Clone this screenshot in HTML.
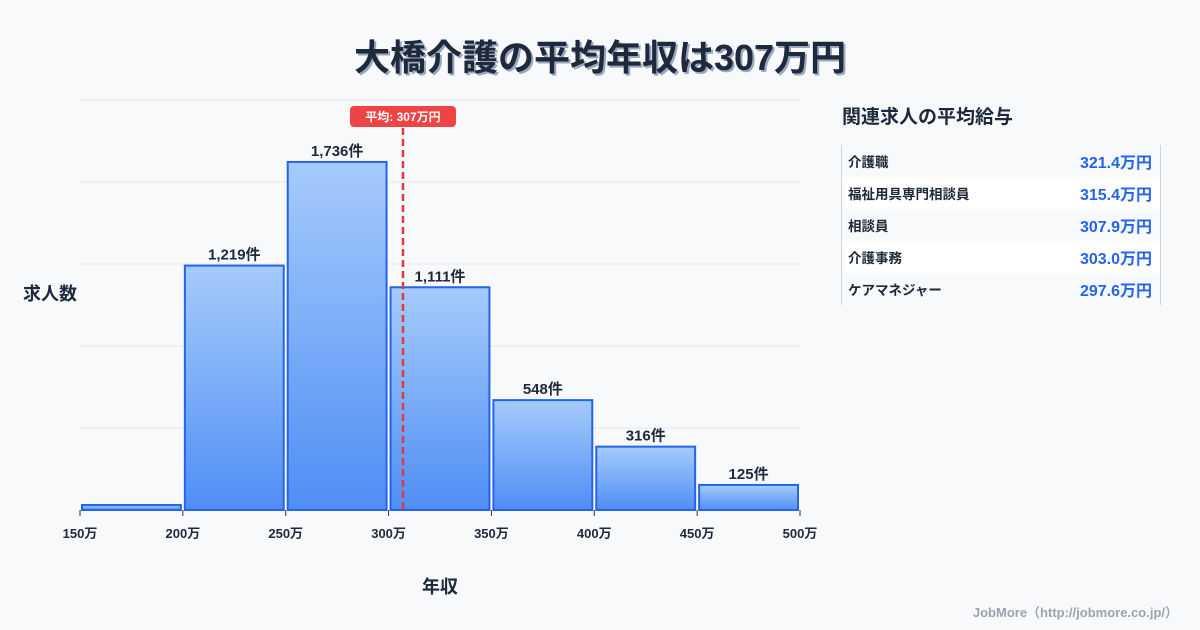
<!DOCTYPE html>
<html><head><meta charset="utf-8">
<style>
body{margin:0;width:1200px;height:630px;background:#f8f9fb;font-family:"Liberation Sans","Noto Sans CJK JP",sans-serif;overflow:hidden;position:relative;color:#1f2937}
.title{position:absolute;left:0;width:1200px;top:29px;text-align:center;font-size:36px;font-weight:bold;color:#1e293b;text-shadow:2px 2px 0 #9aa8bd}
.side-title{position:absolute;left:842px;top:102px;font-size:19px;font-weight:bold;color:#1e293b}
.table{position:absolute;left:841px;top:145px;width:318px;border-left:1px solid #cbd5e1;border-right:1px solid #cbd5e1}
.row{height:32px;display:flex;justify-content:space-between;align-items:center;padding:0 8px 0 6px;font-size:13.5px;font-weight:bold}
.row:nth-child(even){background:#fff}
.row span:last-child{color:#2563eb;font-size:16px}
.foot{position:absolute;right:22px;top:602px;font-size:13px;color:#9ca3af;font-weight:bold}
</style></head><body>
<div class="title">大橋介護の平均年収は307万円</div>
<svg id="chart" width="820" height="630" style="position:absolute;left:0;top:0"></svg>
<div class="side-title">関連求人の平均給与</div>
<div class="table">
<div class="row"><span>介護職</span><span>321.4万円</span></div>
<div class="row"><span>福祉用具専門相談員</span><span>315.4万円</span></div>
<div class="row"><span>相談員</span><span>307.9万円</span></div>
<div class="row"><span>介護事務</span><span>303.0万円</span></div>
<div class="row"><span>ケアマネジャー</span><span>297.6万円</span></div>
</div>
<div class="foot">JobMore（http://jobmore.co.jp/）</div>
<script>
const binStarts=[150,200,250,300,350,400,450];
const counts=[25,1219,1736,1111,548,316,125];
const labels=["","1,219件","1,736件","1,111件","548件","316件","125件"];
const xTicks=[150,200,250,300,350,400,450,500];
const avg=307;
const NS="http://www.w3.org/2000/svg";
const svg=document.getElementById('chart');
const x0=80,x1=800,yb=510,yt=100;
const yMax=2045;
const X=v=>x0+(v-150)*(x1-x0)/350;
const Y=v=>yb-v*(yb-yt)/yMax;
function el(t,a){const e=document.createElementNS(NS,t);for(const k in a)e.setAttribute(k,a[k]);svg.appendChild(e);return e;}
const defs=el('defs',{});
defs.innerHTML='<linearGradient id="g" x1="0" y1="0" x2="0" y2="1"><stop offset="0" stop-color="#a5cbfb"/><stop offset="1" stop-color="#4f8ef5"/></linearGradient>';
for(let i=0;i<=5;i++){const y=yb-i*(yb-yt)/5;const l=el('line',{x1:x0,x2:x1,y1:y,y2:y,stroke:'#e5e7eb','stroke-width':1});
}
binStarts.forEach((b,i)=>{
const r=el('rect',{x:X(b)+2,y:Y(counts[i]),width:X(b+50)-X(b)-4,height:yb-Y(counts[i]),fill:'url(#g)',stroke:'#2563eb','stroke-width':2});

if(labels[i]){const t=el('text',{x:(X(b)+X(b+50))/2,y:Y(counts[i])-6,'text-anchor':'middle','font-size':15,'font-weight':'bold',fill:'#1e293b'});t.textContent=labels[i];
}
});
xTicks.forEach(v=>{const l=el('line',{x1:X(v),x2:X(v),y1:yb,y2:yb+6,stroke:'#333'});

const t=el('text',{x:X(v),y:yb+28,'text-anchor':'middle','font-size':13,'font-weight':'bold',fill:'#1e293b'});t.textContent=v+'万';
});
const al=el('line',{x1:X(avg),x2:X(avg),y1:128,y2:yb,stroke:'#e0393e','stroke-width':2.5,'stroke-dasharray':'7,4'});

const ab=el('rect',{x:X(avg)-53,y:106,width:106,height:21,rx:4,fill:'#ef4444'});

const at=el('text',{x:X(avg),y:121,'text-anchor':'middle','font-size':12,'font-weight':'bold',fill:'#fff'});at.textContent='平均: '+avg+'万円';

const yt2=el('text',{x:50,y:300,'text-anchor':'middle','font-size':18,'font-weight':'bold',fill:'#1e293b'});yt2.textContent='求人数';

const xt=el('text',{x:440,y:593,'text-anchor':'middle','font-size':18,'font-weight':'bold',fill:'#1e293b'});xt.textContent='年収';

</script>
</body></html>
